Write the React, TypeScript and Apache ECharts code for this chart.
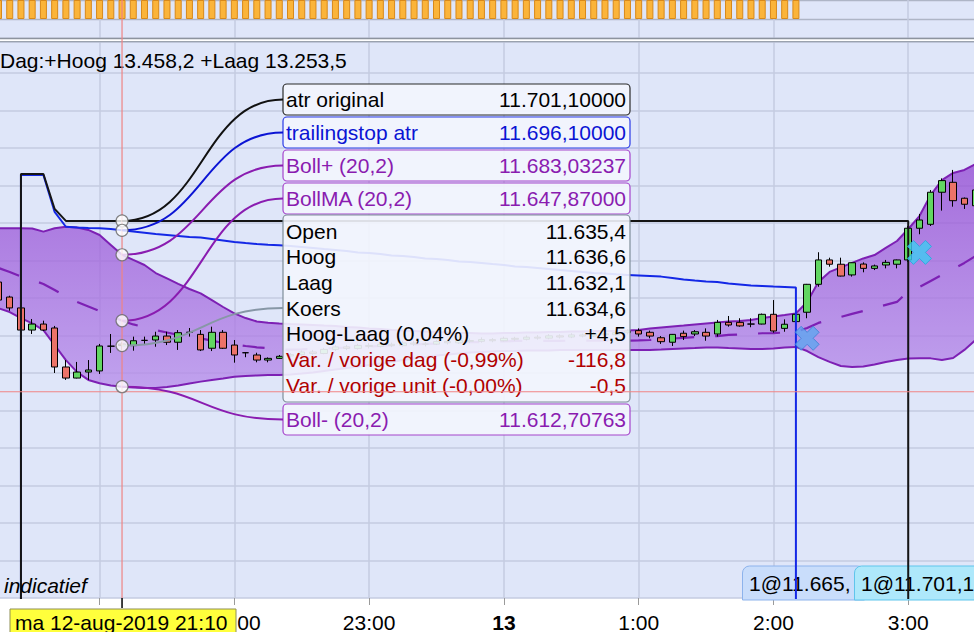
import React, { useEffect, useRef } from "react";
import * as echarts from "echarts";

const FONT = '"Liberation Sans", Arial, Helvetica, sans-serif';

// x values: minutes relative to 21:00 (ma 12-aug-2019), 5-minute candles
// (20:00 and 21:00 are off-screen / hidden under the date box in the reference)
const tickTimes = [-60, 0, 60, 120, 180, 240, 300, 360];
const tickLabels = ["", "", "22:00", "23:00", "13", "1:00", "2:00", "3:00"];

// [time, open, close, low, high]
const candles: number[][] = [
  [-45, 11668.5, 11658.9, 11657.3, 11670.1],
  [-40, 11660.5, 11654.7, 11653.2, 11661.2],
  [-35, 11654.7, 11642.9, 11642.4, 11655.7],
  [-30, 11642.9, 11646.1, 11640.8, 11648.8],
  [-25, 11646.1, 11642.9, 11642.4, 11647.9],
  [-20, 11644.0, 11623.2, 11620.0, 11645.1],
  [-15, 11623.2, 11617.3, 11616.3, 11626.9],
  [-10, 11617.3, 11620.5, 11617.1, 11625.9],
  [-5, 11620.5, 11621.6, 11616.3, 11626.9],
  [0, 11621.1, 11634.4, 11619.5, 11635.5],
  [5, 11634.3, 11634.3, 11630.7, 11640.8],
  [10, 11635.4, 11634.6, 11632.1, 11636.6],
  [15, 11634.6, 11637.2, 11631.9, 11639.4],
  [20, 11637.4, 11637.4, 11634.9, 11639.4],
  [25, 11637.6, 11639.7, 11634.0, 11642.0],
  [30, 11639.7, 11636.4, 11634.9, 11642.0],
  [35, 11636.4, 11641.5, 11632.3, 11642.9],
  [40, 11641.7, 11641.7, 11639.4, 11644.0],
  [45, 11640.6, 11632.3, 11631.7, 11642.9],
  [50, 11633.2, 11641.7, 11631.7, 11644.7],
  [55, 11641.7, 11633.2, 11632.8, 11642.9],
  [60, 11634.9, 11629.6, 11625.5, 11637.6],
  [65, 11630.8, 11630.8, 11628.4, 11631.0],
  [70, 11629.6, 11626.9, 11625.7, 11630.8],
  [75, 11626.9, 11627.8, 11625.7, 11628.3],
  [80, 11627.8, 11628.9, 11627.5, 11629.6],
  [85, 11629.1, 11629.8, 11628.4, 11630.6],
  [90, 11629.8, 11631.2, 11629.2, 11632.0],
  [95, 11631.2, 11630.4, 11629.6, 11632.3],
  [100, 11630.4, 11632.6, 11630.0, 11633.4],
  [105, 11632.6, 11633.9, 11631.8, 11634.8],
  [110, 11633.9, 11633.1, 11632.2, 11635.0],
  [115, 11633.1, 11634.7, 11632.5, 11635.6],
  [120, 11634.7, 11634.2, 11633.1, 11636.0],
  [125, 11634.2, 11635.3, 11633.6, 11636.4],
  [130, 11635.3, 11634.6, 11633.8, 11636.2],
  [135, 11634.6, 11636.0, 11634.0, 11637.1],
  [140, 11636.0, 11635.4, 11634.5, 11637.0],
  [145, 11635.4, 11635.4, 11634.2, 11636.5],
  [150, 11635.4, 11636.8, 11634.9, 11637.6],
  [155, 11636.8, 11636.1, 11635.2, 11638.0],
  [160, 11636.1, 11637.3, 11635.5, 11638.2],
  [165, 11637.3, 11636.9, 11636.0, 11638.4],
  [170, 11636.9, 11637.8, 11636.2, 11639.0],
  [175, 11637.8, 11637.2, 11636.4, 11638.6],
  [180, 11637.2, 11638.5, 11636.8, 11639.4],
  [185, 11638.5, 11638.0, 11637.2, 11639.3],
  [190, 11638.0, 11639.1, 11637.4, 11640.0],
  [195, 11639.1, 11638.6, 11637.8, 11640.2],
  [200, 11638.6, 11639.8, 11638.0, 11640.7],
  [205, 11639.8, 11639.2, 11638.4, 11640.6],
  [210, 11639.2, 11640.3, 11638.6, 11641.2],
  [215, 11640.3, 11639.7, 11639.0, 11641.0],
  [220, 11639.7, 11640.9, 11639.2, 11641.8],
  [225, 11640.9, 11640.4, 11639.5, 11641.6],
  [230, 11640.4, 11641.5, 11639.8, 11642.4],
  [235, 11641.5, 11642.4, 11640.6, 11643.3],
  [240, 11642.6, 11640.8, 11639.4, 11643.8],
  [245, 11641.7, 11639.7, 11638.5, 11642.6],
  [250, 11638.8, 11636.7, 11635.5, 11639.7],
  [255, 11636.4, 11640.6, 11634.4, 11640.8],
  [260, 11641.2, 11639.4, 11637.6, 11642.6],
  [265, 11640.8, 11642.0, 11639.7, 11642.9],
  [270, 11641.7, 11639.7, 11637.2, 11643.8],
  [275, 11640.8, 11647.0, 11639.4, 11648.3],
  [280, 11647.0, 11645.6, 11644.7, 11650.4],
  [285, 11647.0, 11645.1, 11644.7, 11649.2],
  [290, 11646.1, 11646.1, 11644.4, 11649.2],
  [295, 11646.1, 11651.3, 11645.9, 11651.7],
  [300, 11651.3, 11642.4, 11641.5, 11658.9],
  [305, 11643.8, 11646.0, 11642.0, 11648.6],
  [310, 11647.4, 11651.3, 11646.9, 11652.0],
  [315, 11652.4, 11667.3, 11649.2, 11667.5],
  [320, 11667.3, 11680.3, 11666.0, 11684.4],
  [325, 11680.3, 11678.0, 11676.7, 11681.5],
  [330, 11678.0, 11671.7, 11671.5, 11681.5],
  [335, 11672.3, 11678.8, 11671.4, 11678.9],
  [340, 11678.1, 11675.8, 11673.7, 11679.0],
  [345, 11675.8, 11677.1, 11674.9, 11677.8],
  [350, 11677.6, 11679.0, 11675.8, 11680.3],
  [355, 11678.0, 11680.3, 11675.8, 11680.5],
  [360, 11680.3, 11697.2, 11679.2, 11698.4],
  [365, 11697.2, 11701.6, 11694.0, 11704.8],
  [370, 11699.3, 11716.4, 11698.4, 11717.6],
  [375, 11716.4, 11722.6, 11706.6, 11723.8],
  [380, 11721.7, 11711.9, 11708.7, 11728.3],
  [385, 11713.2, 11710.0, 11707.5, 11713.6],
  [390, 11709.2, 11717.6, 11708.5, 11718.7],
];

// [time, Boll+ (20,2), BollMA (20,2), Boll- (20,2)]
const bollinger: number[][] = [
  [-45, 11697.2, 11676.0, 11654.5],
  [-40, 11697.2, 11673.9, 11652.5],
  [-35, 11697.2, 11671.5, 11649.3],
  [-30, 11697.1, 11669.6, 11646.5],
  [-25, 11695.4, 11667.5, 11642.9],
  [-20, 11697.2, 11664.3, 11634.9],
  [-15, 11698.0, 11660.8, 11626.9],
  [-10, 11697.6, 11657.9, 11620.5],
  [-5, 11696.3, 11655.5, 11616.3],
  [0, 11693.6, 11653.1, 11614.5],
  [5, 11688.3, 11650.4, 11613.3],
  [10, 11683.03, 11647.87, 11612.71],
  [15, 11680.3, 11645.9, 11612.3],
  [20, 11677.6, 11644.5, 11612.0],
  [25, 11673.3, 11642.9, 11612.0],
  [30, 11670.5, 11641.6, 11612.5],
  [35, 11667.5, 11640.3, 11613.3],
  [40, 11664.8, 11639.2, 11614.4],
  [45, 11662.5, 11638.5, 11615.4],
  [50, 11658.9, 11637.3, 11616.3],
  [55, 11655.2, 11636.0, 11617.1],
  [60, 11651.8, 11635.2, 11618.0],
  [65, 11649.3, 11634.4, 11618.4],
  [70, 11647.5, 11633.7, 11618.7],
  [75, 11646.8, 11633.2, 11618.9],
  [80, 11646.4, 11632.5, 11618.9],
  [85, 11646.1, 11632.5, 11619.2],
  [90, 11645.9, 11632.6, 11619.7],
  [95, 11645.6, 11632.8, 11620.3],
  [100, 11645.3, 11633.1, 11621.1],
  [105, 11645.1, 11633.3, 11621.9],
  [110, 11644.5, 11633.6, 11622.7],
  [115, 11644.3, 11633.9, 11623.5],
  [120, 11643.7, 11634.1, 11624.3],
  [125, 11643.5, 11634.4, 11625.1],
  [130, 11642.9, 11634.7, 11625.9],
  [135, 11642.7, 11634.9, 11626.9],
  [140, 11642.4, 11635.2, 11627.7],
  [145, 11642.1, 11635.5, 11628.5],
  [150, 11641.9, 11635.7, 11629.3],
  [155, 11641.6, 11636.0, 11629.9],
  [160, 11641.3, 11636.3, 11630.4],
  [165, 11641.3, 11636.5, 11630.9],
  [170, 11641.1, 11636.5, 11631.2],
  [175, 11641.1, 11636.8, 11631.5],
  [180, 11641.3, 11636.8, 11631.7],
  [185, 11641.3, 11637.1, 11631.7],
  [190, 11641.6, 11637.1, 11632.0],
  [195, 11641.6, 11637.1, 11632.0],
  [200, 11641.9, 11637.1, 11632.0],
  [205, 11641.9, 11637.1, 11632.3],
  [210, 11642.1, 11637.3, 11632.3],
  [215, 11642.1, 11637.3, 11632.3],
  [220, 11642.4, 11637.3, 11632.3],
  [225, 11642.4, 11637.3, 11632.3],
  [230, 11642.4, 11637.3, 11632.3],
  [235, 11642.6, 11637.3, 11632.3],
  [240, 11642.9, 11637.4, 11632.3],
  [245, 11643.7, 11637.6, 11632.3],
  [250, 11644.3, 11638.1, 11632.5],
  [255, 11644.8, 11638.4, 11632.8],
  [260, 11645.3, 11638.7, 11633.1],
  [265, 11645.9, 11639.2, 11633.3],
  [270, 11646.4, 11639.5, 11633.6],
  [275, 11646.9, 11639.7, 11633.6],
  [280, 11647.5, 11640.3, 11633.3],
  [285, 11647.7, 11640.5, 11633.1],
  [290, 11648.3, 11640.8, 11632.8],
  [295, 11649.3, 11641.2, 11632.8],
  [300, 11650.1, 11641.3, 11633.1],
  [305, 11650.9, 11641.6, 11633.6],
  [310, 11651.8, 11642.0, 11633.9],
  [315, 11657.9, 11644.0, 11631.7],
  [320, 11668.5, 11646.7, 11628.5],
  [325, 11673.9, 11648.3, 11625.9],
  [330, 11676.3, 11649.9, 11623.7],
  [335, 11678.7, 11651.5, 11623.2],
  [340, 11681.1, 11653.1, 11623.5],
  [345, 11682.9, 11654.7, 11624.5],
  [350, 11686.7, 11656.3, 11625.9],
  [355, 11690.4, 11657.9, 11626.9],
  [360, 11696.8, 11663.5, 11627.7],
  [365, 11703.7, 11665.9, 11627.8],
  [370, 11714.9, 11669.1, 11627.8],
  [375, 11722.9, 11672.3, 11626.9],
  [380, 11726.7, 11675.5, 11628.0],
  [385, 11728.3, 11678.7, 11632.3],
  [390, 11731.5, 11682.4, 11637.6],
];

// trailingstop atr (blue)
const trailingStop: number[][] = [
  [-45, 11420], [-35, 11420], [-35, 11725.6], [-30, 11725.6], [-25, 11725.6],
  [-20, 11705.9], [-15, 11698.0], [-10, 11697.6], [-5, 11697.3], [0, 11697.2],
  [5, 11696.8], [10, 11696.1], [15, 11695.5], [20, 11694.8], [25, 11694.1],
  [30, 11693.6], [35, 11693.1], [40, 11692.5], [45, 11692.3], [50, 11691.5],
  [55, 11690.7], [60, 11689.9], [65, 11689.3], [70, 11688.8], [75, 11688.4],
  [80, 11688.1], [85, 11687.7], [90, 11687.2], [95, 11686.7], [100, 11686.1],
  [105, 11685.6], [110, 11685.1], [115, 11684.3], [120, 11684.0], [125, 11683.5],
  [130, 11682.7], [135, 11682.4], [140, 11681.9], [145, 11681.1], [150, 11680.8],
  [155, 11680.3], [160, 11679.5], [165, 11679.2], [170, 11678.7], [175, 11678.1],
  [180, 11677.6], [185, 11676.8], [190, 11676.5], [195, 11676.0], [200, 11675.5],
  [205, 11674.9], [210, 11674.4], [215, 11673.9], [220, 11673.3], [225, 11673.1],
  [230, 11672.6], [235, 11672.3], [240, 11672.0], [245, 11671.7], [250, 11671.4],
  [255, 11670.7], [260, 11669.9], [265, 11669.3], [270, 11668.8], [275, 11668.5],
  [280, 11667.7], [285, 11667.2], [290, 11666.7], [295, 11666.4], [300, 11666.1],
  [305, 11665.9], [310, 11665.6], [310, 11420], [390, 11420],
];

// atr original (black)
const atrOriginal: number[][] = [
  [-45, 11420], [-35, 11420], [-35, 11726.1], [-30, 11726.1], [-25, 11726.1],
  [-20, 11707.5], [-15, 11701.1], [10, 11701.1], [100, 11701.1], [200, 11701.1],
  [300, 11701.1], [360, 11701.1], [360, 11420], [390, 11420],
];

// volume bars (top panel, all saturated)
const volume: number[][] = [
  [-45, 1], [-40, 1], [-35, 1], [-30, 1], [-25, 1], [-20, 1], [-15, 1], [-10, 1], [-5, 1],
  [0, 1], [5, 1], [10, 1], [15, 1], [20, 1], [25, 1], [30, 1], [35, 1], [40, 1], [45, 1],
  [50, 1], [55, 1], [60, 1], [65, 1], [70, 1], [75, 1], [80, 1], [85, 1], [90, 1], [95, 1],
  [100, 1], [105, 1], [110, 1], [115, 1], [120, 1], [125, 1], [130, 1], [135, 1], [140, 1],
  [145, 1], [150, 1], [155, 1], [160, 1], [165, 1], [170, 1], [175, 1], [180, 1], [185, 1],
  [190, 1], [195, 1], [200, 1], [205, 1], [210, 1], [215, 1], [220, 1], [225, 1], [230, 1],
  [235, 1], [240, 1], [245, 1], [250, 1], [255, 1], [260, 1], [265, 1], [270, 1], [275, 1],
  [280, 1], [285, 1], [290, 1], [295, 1], [300, 1], [305, 1], [310, 1],
];

// trade markers (X)
const tradeMarks: number[][] = [
  [315, 11638.5],
  [365, 11684.3],
];

const crosshairTime = 10;
const crosshairPrice = 11610;

const legendBoxes = [
  { y: 84, label: "atr original", value: "11.701,10000", color: "#000000", stroke: "#2b2b2b", level: 11701.1 },
  { y: 117, label: "trailingstop atr", value: "11.696,10000", color: "#0b14d4", stroke: "#2a3ae6", level: 11696.1 },
  { y: 150, label: "Boll+ (20,2)", value: "11.683,03237", color: "#8a1cb0", stroke: "#a544cc", level: 11683.03237 },
  { y: 183, label: "BollMA (20,2)", value: "11.647,87000", color: "#8a1cb0", stroke: "#a544cc", level: 11647.87 },
  { y: 404, label: "Boll- (20,2)", value: "11.612,70763", color: "#8a1cb0", stroke: "#a544cc", level: 11612.70763 },
];

const ohlcRows = [
  { label: "Open", value: "11.635,4", color: "#000000" },
  { label: "Hoog", value: "11.636,6", color: "#000000" },
  { label: "Laag", value: "11.632,1", color: "#000000" },
  { label: "Koers", value: "11.634,6", color: "#000000" },
  { label: "Hoog-Laag (0,04%)", value: "+4,5", color: "#000000" },
  { label: "Var. / vorige dag (-0,99%)", value: "-116,8", color: "#b00000" },
  { label: "Var. / vorige unit (-0,00%)", value: "-0,5", color: "#b00000" },
];
const koersLevel = 11634.6;

const GRID_LEFT = -35.2;
const GRID_RIGHT = -6.1;
const BG = "#dfe6f9";
const GRIDLINE = "#c4cbe0";
const PURPLE = "#7d20b4";

export default function App() {
  const ref = useRef<HTMLDivElement>(null);

  useEffect(() => {
    document.body.style.margin = "0";
    const chart = echarts.init(ref.current as HTMLDivElement, undefined, {
      renderer: "svg",
      width: 974,
      height: 632,
    });

    const xLabelFormatter = (v: number) => {
      const i = tickTimes.indexOf(v);
      if (i < 0) return "";
      return tickLabels[i] === "13" ? "{b|13}" : tickLabels[i];
    };

    const bandFill = new echarts.graphic.LinearGradient(0, 0, 0, 1, [
      { offset: 0, color: "rgba(146,70,210,0.75)" },
      { offset: 1, color: "rgba(182,139,234,0.75)" },
    ]);

    const xPath = "path://M5,0 L10,5 L15,0 L20,5 L15,10 L20,15 L15,20 L10,15 L5,20 L0,15 L5,10 L0,5 Z";

    const option: any = {
      animation: false,
      backgroundColor: "#ffffff",
      grid: [
        {
          left: GRID_LEFT, right: GRID_RIGHT, top: 42, bottom: 34, show: true,
          backgroundColor: BG, borderWidth: 0, containLabel: false, outerBoundsMode: "none",
        },
        {
          left: GRID_LEFT, right: GRID_RIGHT, top: 0, height: 38, show: true,
          backgroundColor: BG, borderWidth: 0, containLabel: false, outerBoundsMode: "none",
        },
      ],
      xAxis: [
        {
          type: "value",
          gridIndex: 0,
          min: -60,
          max: 392,
          interval: 60,
          axisLine: { show: false },
          axisTick: { show: true, length: 7, lineStyle: { color: "#9a9a9a", width: 1 } },
          axisLabel: {
            show: true,
            margin: 13.5,
            fontSize: 21,
            lineHeight: 21,
            color: "#000",
            fontFamily: FONT,
            formatter: xLabelFormatter,
            showMaxLabel: false,
            hideOverlap: false,
            rich: { b: { fontSize: 21, lineHeight: 21, fontWeight: "bold", color: "#000", fontFamily: FONT } },
          },
          splitLine: { show: true, lineStyle: { color: GRIDLINE, width: 1.5 } },
        },
        {
          type: "value",
          gridIndex: 1,
          min: -60,
          max: 392,
          interval: 60,
          axisLine: { show: false },
          axisTick: { show: false },
          axisLabel: { show: false },
          splitLine: { show: true, lineStyle: { color: GRIDLINE, width: 1.5 } },
        },
      ],
      yAxis: [
        {
          type: "value",
          gridIndex: 0,
          min: 11500,
          max: 11796.53,
          interval: 20,
          axisLine: { show: false },
          axisTick: { show: false },
          axisLabel: { show: false },
          splitLine: { show: true, lineStyle: { color: GRIDLINE, width: 1.5 } },
        },
        {
          type: "value",
          gridIndex: 1,
          min: -1,
          max: 1,
          interval: 1,
          axisLine: { show: false },
          axisTick: { show: false },
          axisLabel: { show: false },
          splitLine: { show: true, lineStyle: { color: "#aeb5c6", width: 1.3 } },
        },
      ],
      series: [
        {
          type: "bar",
          xAxisIndex: 1,
          yAxisIndex: 1,
          data: volume,
          barWidth: 7,
          itemStyle: { color: "#fbb43a", borderColor: "#d8891a", borderWidth: 1 },
          silent: true,
        },
        {
          type: "custom",
          xAxisIndex: 0,
          yAxisIndex: 0,
          z: 1,
          silent: true,
          clip: true,
          data: [[bollinger[0][0], bollinger[0][1]]],
          renderItem: (_params: any, api: any) => {
            const top = bollinger.map((r) => api.coord([r[0], r[1]]));
            const bot = bollinger
              .slice()
              .reverse()
              .map((r) => api.coord([r[0], r[3]]));
            return {
              type: "polygon",
              shape: { points: top.concat(bot) },
              style: { fill: bandFill },
            };
          },
        },
        {
          type: "line",
          xAxisIndex: 0,
          yAxisIndex: 0,
          z: 3,
          data: bollinger.map((r) => [r[0], r[1]]),
          showSymbol: false,
          symbol: "none",
          lineStyle: { color: PURPLE, width: 2 },
          silent: true,
        },
        {
          type: "line",
          xAxisIndex: 0,
          yAxisIndex: 0,
          z: 3,
          data: bollinger.map((r) => [r[0], r[3]]),
          showSymbol: false,
          symbol: "none",
          lineStyle: { color: PURPLE, width: 2 },
          silent: true,
        },
        {
          type: "line",
          xAxisIndex: 0,
          yAxisIndex: 0,
          z: 3,
          data: bollinger.map((r) => [r[0], r[2]]),
          showSymbol: false,
          symbol: "none",
          lineStyle: { color: PURPLE, width: 2.2, type: [22, 21] },
          silent: true,
        },
        {
          type: "candlestick",
          xAxisIndex: 0,
          yAxisIndex: 0,
          z: 4,
          data: candles,
          encode: { x: 0, y: [1, 2, 3, 4] },
          barWidth: 7,
          itemStyle: {
            color: "#62d662",
            color0: "#ec7368",
            borderColor: "#000000",
            borderColor0: "#000000",
            borderWidth: 1,
          },
          silent: true,
        },
        {
          type: "line",
          xAxisIndex: 0,
          yAxisIndex: 0,
          z: 5,
          data: trailingStop,
          showSymbol: false,
          symbol: "none",
          lineStyle: { color: "#1428e6", width: 2 },
          silent: true,
        },
        {
          type: "line",
          xAxisIndex: 0,
          yAxisIndex: 0,
          z: 5,
          data: atrOriginal,
          showSymbol: false,
          symbol: "none",
          lineStyle: { color: "#151515", width: 2 },
          silent: true,
        },
        {
          type: "scatter",
          xAxisIndex: 0,
          yAxisIndex: 0,
          z: 6,
          symbol: xPath,
          symbolSize: 24,
          data: [
            { value: tradeMarks[0], itemStyle: { color: "#5fa5ef", borderColor: "#3a7fd6", borderWidth: 1 } },
            { value: tradeMarks[1], itemStyle: { color: "#3fcaf2", borderColor: "#27a6dc", borderWidth: 1 } },
          ],
          silent: true,
        },
        {
          type: "scatter",
          xAxisIndex: 0,
          yAxisIndex: 0,
          z: 120,
          symbol: "circle",
          symbolSize: 12,
          data: [...legendBoxes.map((b) => [crosshairTime, b.level]), [crosshairTime, koersLevel]],
          itemStyle: { color: "#ffffff", borderColor: "#666666", borderWidth: 1.2 },
          silent: true,
        },
      ],
    };

    chart.setOption(option);

    const px = (t: number, p: number) =>
      chart.convertToPixel({ gridIndex: 0 } as any, [t, p]) as unknown as number[];

    const txt = (x: number, y: number, text: string, fill: string, align: string, z: number, extra: any = {}) => ({
      type: "text",
      x,
      y,
      z,
      silent: true,
      style: {
        text,
        fill,
        fontSize: 21,
        fontFamily: FONT,
        align,
        textAlign: align,
        verticalAlign: "middle",
        textVerticalAlign: "middle",
        ...extra,
      },
    });

    const els: any[] = [];
    // separator between panels
    els.push({ type: "rect", z: 50, silent: true, shape: { x: 0, y: 38, width: 974, height: 4 }, style: { fill: "#ffffff" } });
    els.push({ type: "line", z: 51, silent: true, shape: { x1: 0, y1: 38.5, x2: 974, y2: 38.5 }, style: { stroke: "#8c939e", lineWidth: 1.3 } });
    els.push({ type: "line", z: 51, silent: true, shape: { x1: 0, y1: 41.6, x2: 974, y2: 41.6 }, style: { stroke: "#9aa2ae", lineWidth: 1.3 } });

    els.push(txt(0, 60, "Dag:+Hoog 13.458,2 +Laag 13.253,5", "#000000", "left", 100));

    // trade boxes (below series)
    els.push({ type: "rect", z: 1, silent: true, shape: { x: 742.5, y: 566, width: 122, height: 34, r: [7, 7, 0, 0] }, style: { fill: "#c9ddfb", stroke: "#8db3ec", lineWidth: 1 } });
    els.push(txt(749, 583, "1@11.665,", "#000000", "left", 1));
    els.push({ type: "rect", z: 1, silent: true, shape: { x: 854.5, y: 566, width: 130, height: 34, r: [7, 7, 0, 0] }, style: { fill: "#aee8fb", stroke: "#5fc5ec", lineWidth: 1 } });
    els.push(txt(861, 583, "1@11.701,1", "#000000", "left", 1));

    els.push(txt(4, 585, "indicatief", "#000000", "left", 100, { fontStyle: "italic" }));

    // crosshair
    const [cx, cy] = px(crosshairTime, crosshairPrice);
    const [, gridBottom] = px(crosshairTime, 11500);
    els.push({ type: "line", z: 103, silent: true, shape: { x1: cx, y1: 0, x2: cx, y2: gridBottom }, style: { stroke: "#f08484", lineWidth: 1.2 } });
    els.push({ type: "line", z: 103, silent: true, shape: { x1: 0, y1: cy, x2: 974, y2: cy }, style: { stroke: "#f08484", lineWidth: 1.2 } });
    els.push({ type: "line", z: 103, silent: true, shape: { x1: cx, y1: gridBottom, x2: cx, y2: gridBottom + 10 }, style: { stroke: "#000000", lineWidth: 1.5 } });

    // yellow date box
    els.push({ type: "rect", z: 106, silent: true, shape: { x: 10, y: 609, width: 226, height: 30 }, style: { fill: "#ffff3c", stroke: "#8f8f55", lineWidth: 1 } });
    els.push(txt(15, 622, "ma 12-aug-2019 21:10", "#000000", "left", 107));

    // legend boxes & leader curves
    const BOX_X = 283;
    const BOX_W = 347;
    const leader = (level: number, ey: number, color: string) => {
      const [sx, sy] = px(crosshairTime, level);
      const mx = (sx + BOX_X) / 2;
      return {
        type: "bezierCurve",
        z: 104,
        silent: true,
        shape: { x1: sx, y1: sy, cpx1: mx, cpy1: sy, cpx2: mx, cpy2: ey, x2: BOX_X, y2: ey },
        style: { stroke: color, lineWidth: 2, fill: null },
      };
    };
    legendBoxes.forEach((b) => {
      els.push(leader(b.level, b.y + 15.5, b.color === "#000000" ? "#111111" : b.color));
      els.push({ type: "rect", z: 100, silent: true, shape: { x: BOX_X, y: b.y, width: BOX_W, height: 31, r: 4 }, style: { fill: "rgba(243,245,253,0.9)", stroke: b.stroke, lineWidth: 1.2 } });
      els.push(txt(286, b.y + 15.5, b.label, b.color, "left", 101));
      els.push(txt(626, b.y + 15.5, b.value, b.color, "right", 101));
    });
    // OHLC box
    els.push(leader(koersLevel, 308, "#8797a6"));
    els.push({ type: "rect", z: 100, silent: true, shape: { x: BOX_X, y: 215, width: BOX_W, height: 187, r: 4 }, style: { fill: "rgba(243,245,253,0.9)", stroke: "#7f8e99", lineWidth: 1.2 } });
    ohlcRows.forEach((r, i) => {
      const y = 231 + i * 25.7;
      els.push(txt(286, y, r.label, r.color, "left", 101));
      els.push(txt(626, y, r.value, r.color, "right", 101));
    });

    chart.setOption({ graphic: { elements: els } });

    return () => {
      chart.dispose();
    };
  }, []);

  return (
    <div
      ref={ref}
      style={{ position: "absolute", left: 0, top: 0, width: 974, height: 632, background: "#ffffff" }}
    />
  );
}
